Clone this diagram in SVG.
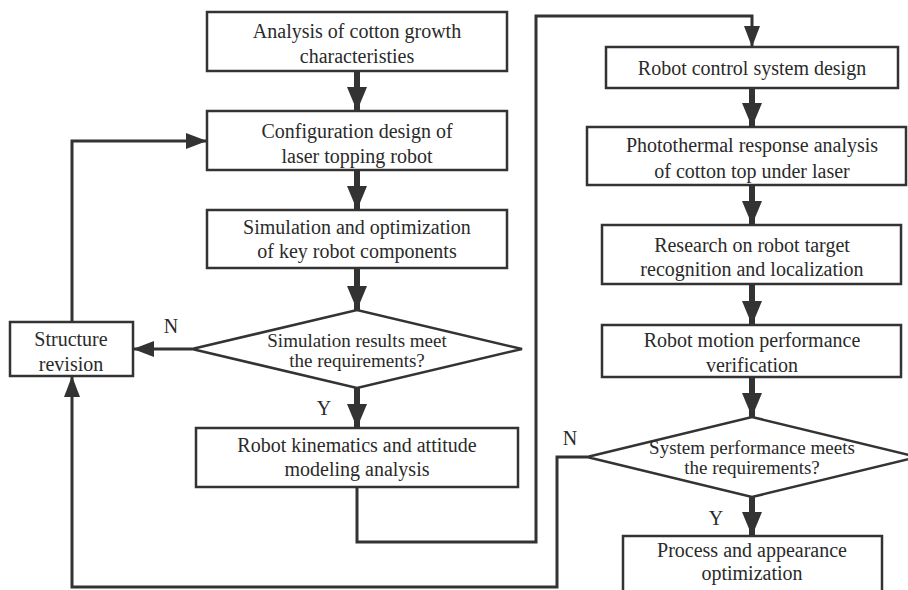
<svg xmlns="http://www.w3.org/2000/svg" width="908" height="590" viewBox="0 0 908 590">
<defs>
<style>
.box{fill:#fff;stroke:#333;stroke-width:2.5}
.t{font-family:"Liberation Serif","Times New Roman",serif;font-size:20px;fill:#2a2a2a;text-anchor:middle}
.d{font-size:19px}
.shaft{fill:none;stroke:#333;stroke-width:6}
.loop{fill:none;stroke:#333;stroke-width:3}
</style>
<marker id="big" markerUnits="userSpaceOnUse" viewBox="0 0 24 20" refX="24" refY="10" markerWidth="24" markerHeight="20" orient="auto">
<path d="M0,0 L24,10 L0,20 z" fill="#333"/>
</marker>
<marker id="small" markerUnits="userSpaceOnUse" viewBox="0 0 21 16" refX="21" refY="8" markerWidth="21" markerHeight="16" orient="auto">
<path d="M0,0 L21,8 L0,16 z" fill="#333"/>
</marker>
</defs>
<rect width="908" height="590" fill="#fff"/>

<g id="connectors">
<line class="shaft" x1="357" y1="71" x2="357" y2="111" marker-end="url(#big)"/>
<line class="shaft" x1="357" y1="170" x2="357" y2="210" marker-end="url(#big)"/>
<line class="shaft" x1="357" y1="268" x2="357" y2="310" marker-end="url(#big)"/>
<line class="shaft" x1="357" y1="388" x2="357" y2="428" marker-end="url(#big)"/>
<line class="loop" x1="192" y1="349" x2="133" y2="349" marker-end="url(#small)"/>
<polyline class="loop" points="72,322 72,141 207,141" marker-end="url(#small)"/>
<polyline class="loop" points="357,487 357,542 536,542 536,16 752,16 752,47" marker-end="url(#small)"/>
<line class="shaft" x1="752" y1="88" x2="752" y2="127" marker-end="url(#big)"/>
<line class="shaft" x1="752" y1="185" x2="752" y2="225" marker-end="url(#big)"/>
<line class="shaft" x1="752" y1="284" x2="752" y2="325" marker-end="url(#big)"/>
<line class="shaft" x1="752" y1="377" x2="752" y2="417" marker-end="url(#big)"/>
<line class="shaft" x1="752" y1="497" x2="752" y2="536" marker-end="url(#big)"/>
<polyline class="loop" points="587,457 557,457 557,587 72,587 72,376" marker-end="url(#small)"/>
<text class="t" x="171" y="333">N</text>
<text class="t" x="324" y="415">Y</text>
<text class="t" x="570" y="445">N</text>
<text class="t" x="716" y="525">Y</text>
</g>

<g id="n1">
<rect class="box" x="207" y="12" width="300" height="59"/>
<text class="t" x="357" y="38">Analysis of cotton growth</text>
<text class="t" x="357" y="63">characteristies</text>
</g>
<g id="n2">
<rect class="box" x="207" y="111" width="300" height="59"/>
<text class="t" x="357" y="138">Configuration design of</text>
<text class="t" x="357" y="163">laser topping robot</text>
</g>
<g id="n3">
<rect class="box" x="207" y="210" width="300" height="58"/>
<text class="t" x="357" y="234">Simulation and optimization</text>
<text class="t" x="357" y="258">of key robot components</text>
</g>
<g id="d1">
<polygon class="box" points="192,349 357,310 522,349 357,388"/>
<text class="t d" x="357" y="347">Simulation results meet</text>
<text class="t d" x="357" y="367">the requirements?</text>
</g>
<g id="n4">
<rect class="box" x="10" y="322" width="123" height="54"/>
<text class="t" x="71" y="346">Structure</text>
<text class="t" x="71" y="371">revision</text>
</g>
<g id="n5">
<rect class="box" x="196" y="428" width="322" height="59"/>
<text class="t" x="357" y="452">Robot kinematics and attitude</text>
<text class="t" x="357" y="476">modeling analysis</text>
</g>
<g id="n6">
<rect class="box" x="606" y="47" width="292" height="41"/>
<text class="t" x="752" y="75">Robot control system design</text>
</g>
<g id="n7">
<rect class="box" x="587" y="127" width="319" height="58"/>
<text class="t" x="752" y="152">Photothermal response analysis</text>
<text class="t" x="752" y="178">of cotton top under laser</text>
</g>
<g id="n8">
<rect class="box" x="602" y="225" width="299" height="59"/>
<text class="t" x="752" y="252">Research on robot target</text>
<text class="t" x="752" y="276">recognition and localization</text>
</g>
<g id="n9">
<rect class="box" x="602" y="325" width="299" height="52"/>
<text class="t" x="752" y="347">Robot motion performance</text>
<text class="t" x="752" y="372">verification</text>
</g>
<g id="d2">
<polygon class="box" points="587,457 752,417 917,457 752,497"/>
<text class="t d" x="752" y="454">System performance meets</text>
<text class="t d" x="752" y="474">the requirements?</text>
</g>
<g id="n10">
<rect class="box" x="623" y="536" width="259" height="58"/>
<text class="t" x="752" y="557">Process and appearance</text>
<text class="t" x="752" y="580">optimization</text>
</g>
</svg>
